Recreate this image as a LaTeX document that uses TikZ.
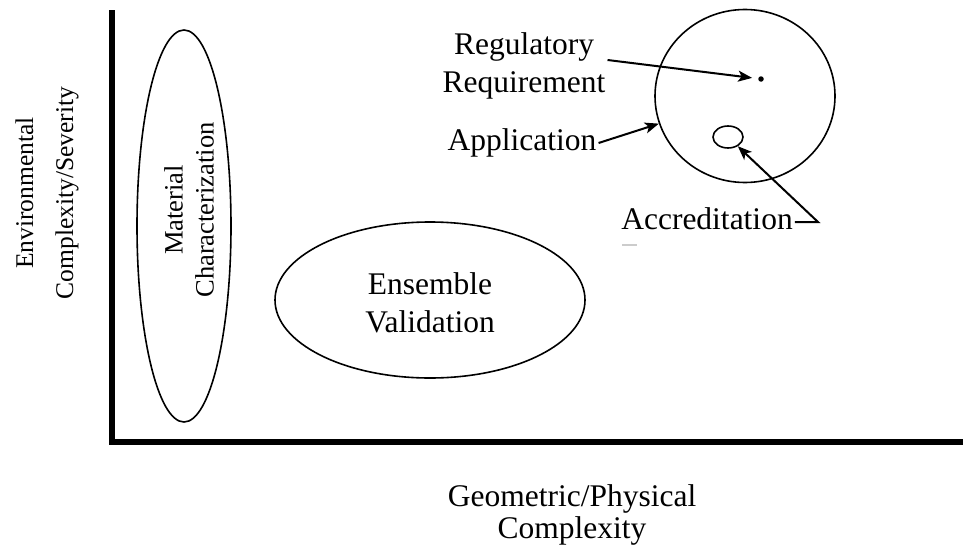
\documentclass[tikz,border=0pt]{standalone}
\usepackage{fontspec}
\setmainfont{Liberation Serif}
\usetikzlibrary{arrows.meta,positioning,shapes.geometric}
\tikzset{
  region node/.style={ellipse,draw,line width=1.6pt,inner sep=0pt},
  label text/.style={align=center,inner sep=2pt,font=\fontsize{31.5}{37.5}\selectfont},
  side text/.style={label text,rotate=90},
  pointer edge/.style={-{Stealth[length=14pt,width=11pt,inset=3.5pt]},line width=2pt},
  axis line/.style={line width=5.5pt,line join=miter},
}

\begin{document}
\begin{tikzpicture}[x=1pt,y=-1pt]
  \useasboundingbox (0,0) rectangle (963,546);
  % axes
  \coordinate (ytop) at (112,10);
  \coordinate (origin) at (112,442);
  \coordinate (xend) at (963,442);
  \draw[axis line] (ytop) -- (origin) -- (xend);
  \node[side text,font=\fontsize{25.5}{40}\selectfont] (ylab) at (47,193) {Environmental\\Complexity/Severity};
  \node[label text,font=\fontsize{31.5}{31.5}\selectfont] (xlab) at (572,515) {Geometric/Physical\\Complexity};
  % regions
  \node[region node,minimum width=94pt,minimum height=392pt] (mat) at (184,226) {};
  \node[side text,font=\fontsize{26.5}{31}\selectfont] (mattxt) at (189,210) {Material\\Characterization};
  \node[region node,minimum width=310pt,minimum height=156pt] (ens) at (430,300) {};
  \node[label text] (enstxt) at (430,303) {Ensemble\\Validation};
  \node[region node,minimum width=180pt,minimum height=173pt] (app) at (745,96) {};
  \node[region node,minimum width=30pt,minimum height=22pt] (acc) at (728,137) {};
  \node[circle,fill,inner sep=0pt,minimum size=5.5pt] (req) at (761,79) {};
  % labels and pointers
  \node[label text] (regtxt) at (524,66) {Regulatory\\Requirement};
  \node[label text] (apptxt) at (522,143) {Application};
  \node[label text] (acctxt) at (707,219) {Accreditation};
  \coordinate (accbend) at (818,222);
  \draw[pointer edge,shorten >=6pt] ([yshift=6pt]regtxt.east) -- (req);
  \draw[pointer edge] (apptxt.east) -- (app);
  \draw[pointer edge] ([yshift=-3pt]acctxt.east) -- (accbend) -- (acc);
  \draw[gray!40,line width=1.2pt] (622,245) -- (637,245);
\end{tikzpicture}
\end{document}
